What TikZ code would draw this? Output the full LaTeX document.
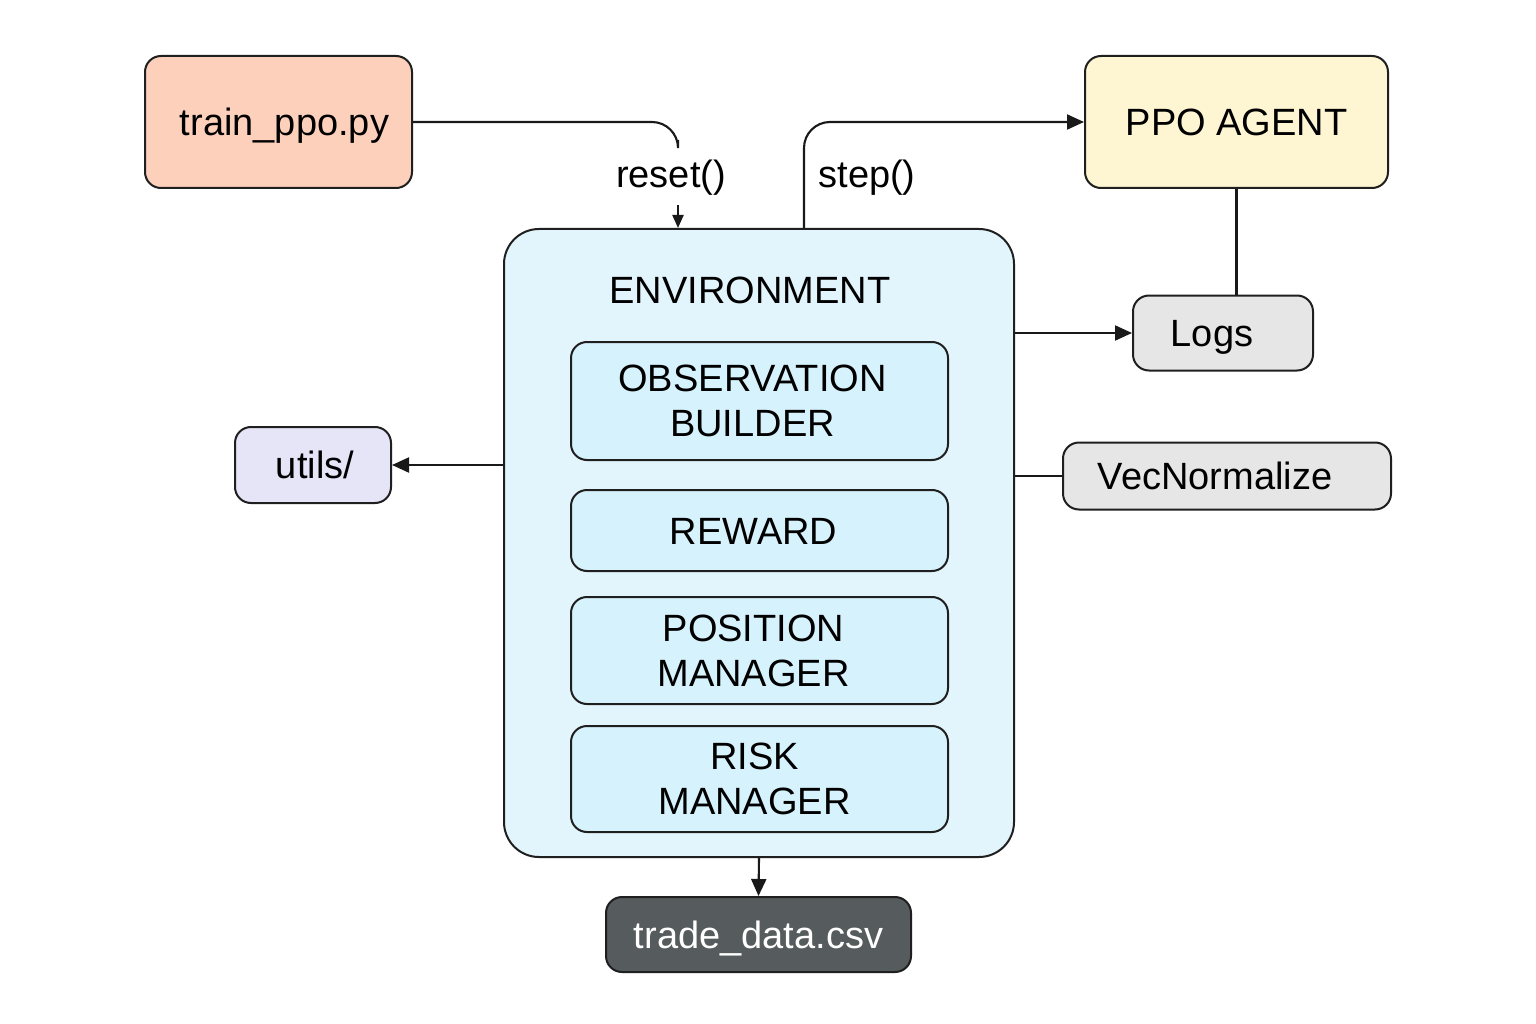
\documentclass[tikz,border=0pt]{standalone}
\usepackage{fontspec}
\setmainfont{Liberation Sans}
\usetikzlibrary{arrows.meta}
\definecolor{trainc}{HTML}{FDD0BC}
\definecolor{agentc}{HTML}{FEF5D2}
\definecolor{envc}{HTML}{E3F5FC}
\definecolor{innerc}{HTML}{D6F2FC}
\definecolor{utilsc}{HTML}{E6E4F7}
\definecolor{grayc}{HTML}{E6E6E7}
\definecolor{tradec}{HTML}{565B5D}
\begin{document}
\begin{tikzpicture}[x=1pt,y=-1pt,
  box/.style={draw=black!88, line width=2pt, rounded corners=16pt, inner sep=0pt, align=center,
    font=\fontsize{38}{45}\selectfont},
  one/.style={text height=27pt, text depth=0pt},
  conn/.style={line width=2.1pt, draw=black!90},
  arr/.style={conn, -{Triangle[length=17pt,width=15pt]}},
  sarr/.style={conn, -{Triangle[length=13pt,width=11pt]}},
  lbl/.style={inner sep=0pt, font=\fontsize{38}{45}\selectfont}]
\useasboundingbox (0,0) rectangle (1536,1024);
\fill[white] (0,0) rectangle (1536,1024);

\node[box, one, fill=trainc, minimum width=267pt, minimum height=132pt] (train) at (278.5,122) {\hspace*{12pt}train\_ppo.py};
\node[box, one, fill=agentc, minimum width=303pt, minimum height=132pt] (agent) at (1236.5,122) {PPO AGENT};
\node[box, fill=envc, rounded corners=35pt, minimum width=510pt, minimum height=628pt] (env) at (759,543) {};
\node[lbl, one] (envt) at (750,290) {ENVIRONMENT};
\node[box, fill=innerc, minimum width=377pt, minimum height=118pt] (obs) at (759.5,401) {\raisebox{-4pt}{\hspace*{-14pt}OBSERVATION}\\\raisebox{-4pt}{\hspace*{-14pt}BUILDER}};
\node[box, one, fill=innerc, minimum width=377pt, minimum height=81pt] (rew) at (759.5,530.5) {\hspace*{-12pt}REWARD};
\node[box, fill=innerc, minimum width=377pt, minimum height=107pt] (pos) at (759.5,650.5) {\raisebox{-3pt}{\hspace*{-12pt}POSITION}\\\raisebox{-3pt}{\hspace*{-12pt}MANAGER}};
\node[box, fill=innerc, minimum width=377pt, minimum height=106pt] (risk) at (759.5,779) {\hspace*{-10pt}RISK\\\hspace*{-10pt}MANAGER};
\node[box, one, fill=utilsc, minimum width=156pt, minimum height=76pt] (utils) at (313,465) {\hspace*{4pt}utils/};
\node[box, one, fill=grayc, minimum width=180pt, minimum height=75pt] (logs) at (1223,333) {\hspace*{-22pt}Logs};
\node[box, one, fill=grayc, minimum width=328pt, minimum height=67pt] (vec) at (1227,476) {\hspace*{-24pt}VecNormalize};
\node[box, one, fill=tradec, text=white, minimum width=305pt, minimum height=75pt] (trade) at (758.5,934.5) {trade\_data.csv};

\node[lbl, one] (reset) at (671,174) {reset()};
\node[lbl, one] (step) at (867,174) {step()};

\coordinate (rend) at (678,140);
\coordinate (rtop) at (678,205);
\coordinate (sx) at (804,0);

\draw[conn, rounded corners=26pt] (train.east) -| (rend);
\draw[sarr] (rtop) -- (rtop |- env.north);
\draw[arr, rounded corners=26pt] (env.north -| sx) |- (agent.west);
\draw[conn] (agent.south) -- (agent.south |- logs.north);
\draw[arr] (env.east |- logs.west) -- (logs.west);
\draw[conn] (env.east |- vec.west) -- (vec.west);
\draw[arr] (env.west |- utils.east) -- (utils.east);
\draw[arr] (env.south) -- (trade.north);
\end{tikzpicture}
\end{document}
